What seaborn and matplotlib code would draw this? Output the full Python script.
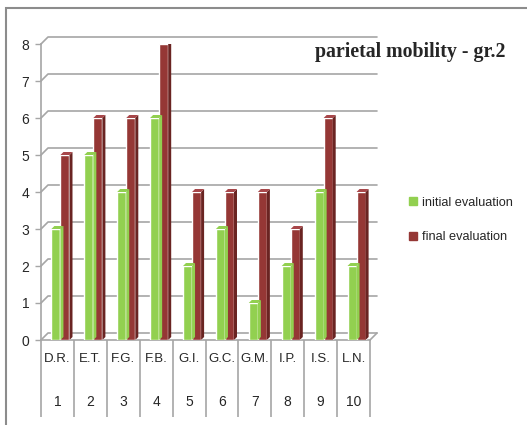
import numpy as np
import pandas as pd
import matplotlib
matplotlib.use('Agg')
import matplotlib.pyplot as plt
import matplotlib.transforms as mtransforms
from matplotlib.patches import Polygon, Rectangle
from matplotlib.lines import Line2D
import seaborn as sns

students = ['D.R.', 'E.T.', 'F.G.', 'F.B.', 'G.I.', 'G.C.', 'G.M.', 'I.P.', 'I.S.', 'L.N.']
numbers = ['1', '2', '3', '4', '5', '6', '7', '8', '9', '10']
initial = [3, 5, 4, 6, 2, 3, 1, 2, 4, 2]
final = [5, 6, 6, 8, 4, 4, 4, 3, 6, 4]
series = ['initial evaluation', 'final evaluation']
y_ticks = [0, 1, 2, 3, 4, 5, 6, 7, 8]

green = '#92D050'
red = '#953735'
side_col = {green: '#6F9E35', red: '#6A2422'}
top_col = {green: '#A9DD70', red: '#A8474A'}
grid_col = '#A6A6A6'

df = pd.DataFrame({
    'student': students * 2,
    'score': initial + final,
    'evaluation': [series[0]] * len(students) + [series[1]] * len(students),
})

sns.set_style('white')
plt.rcParams['font.family'] = ['Liberation Sans', 'DejaVu Sans']

DPI = 100
fig = plt.figure(figsize=(5.27, 4.25), dpi=DPI)
ax = fig.add_axes([41 / 527, 1 - 340 / 425, 329 / 527, 296 / 425])
ax.patch.set_alpha(0)

sns.barplot(data=df, x='student', y='score', hue='evaluation',
            palette=[green, red], width=0.55, saturation=1,
            legend=False, ax=ax, zorder=3)

ax.set_xlim(-0.5, len(students) - 0.5)
ax.set_ylim(0, 8)
ax.set_xlabel('')
ax.set_ylabel('')
ax.set_yticks(y_ticks)
ax.tick_params(axis='y', length=4, width=1, color=grid_col, pad=4.5,
               labelsize=10, left=True)
ax.tick_params(axis='x', length=0, pad=9, labelsize=9.5)
for s in ['top', 'right']:
    ax.spines[s].set_visible(False)
for s in ['left', 'bottom']:
    ax.spines[s].set_color(grid_col)
    ax.spines[s].set_linewidth(1.2)

fig.canvas.draw()
to_disp = ax.transData.transform
ident = mtransforms.IdentityTransform()
d = 7  # depth of back wall in pixels
bd = 3  # depth of bars

# back wall gridlines with diagonal connectors
x0, x1 = ax.get_xlim()
for t in y_ticks:
    (px0, py), (px1, _) = to_disp([(x0, t), (x1, t)])
    ax.add_line(Line2D([px0, px0 + d, px1 + d], [py, py + d, py + d],
                       transform=ident, color=grid_col, lw=1.2, zorder=1,
                       clip_on=False))
# floor right edge
(px1, py0), = to_disp([(x1, 0)])
ax.add_line(Line2D([px1, px1 + d], [py0, py0 + d], transform=ident,
                   color=grid_col, lw=1.2, zorder=1, clip_on=False))

# bars sit a little into the depth: nudge right, then add 3D faces
shift = (x1 - x0) / (px1 - to_disp([(x0, 0)])[0][0]) * 3
for p in ax.patches[:]:
    p.set_x(p.get_x() + shift)
    c = matplotlib.colors.to_hex(p.get_facecolor())
    bx0, by0 = p.get_x(), p.get_y()
    bx1, by1 = bx0 + p.get_width(), by0 + p.get_height()
    (a0, b0), (a1, b1) = to_disp([(bx0, by0), (bx1, by1)])
    side = Polygon([(a1, b0), (a1 + bd, b0 + bd), (a1 + bd, b1 + bd), (a1, b1)],
                   closed=True, transform=ident, facecolor=side_col.get(c, c),
                   edgecolor='none', zorder=3)
    top = Polygon([(a0, b1), (a0 + bd, b1 + bd), (a1 + bd, b1 + bd), (a1, b1)],
                  closed=True, transform=ident, facecolor=top_col.get(c, c),
                  edgecolor='none', zorder=3)
    ax.add_patch(side)
    ax.add_patch(top)

# category table below the axis
blend = mtransforms.blended_transform_factory(ax.transData, ax.transAxes)
bounds = np.arange(len(students) + 1) - 0.5
ax.vlines(bounds, -0.26, 0, transform=blend, colors=grid_col, lw=1.2,
          clip_on=False)
for i, n in enumerate(numbers):
    ax.text(i, -0.209, n, transform=blend, ha='center', va='center',
            fontsize=10)

# title
fig.text(410 / 527, 1 - 52 / 425, 'parietal mobility - gr.2',
         family='Liberation Serif', fontweight='bold', fontsize=14.3,
         ha='center', va='center')

# legend
handles = [Line2D([], [], marker='s', ls='', color=green, markersize=6),
           Line2D([], [], marker='s', ls='', color=red, markersize=6)]
fig.legend(handles, series, loc='center left',
           bbox_to_anchor=(395 / 527, 1 - 220 / 425), frameon=False,
           fontsize=9.2, handletextpad=0.25, labelspacing=1.75,
           handlelength=1.0)

# outer chart frame (cropped on the right and bottom)
fig.patches.append(Rectangle((6 / 527, -0.2), 1.2, 1.2 - 8 / 425,
                             transform=fig.transFigure, fill=False,
                             edgecolor='#8C8C8C', lw=1.5))

fig.savefig('out.png', dpi=DPI)
